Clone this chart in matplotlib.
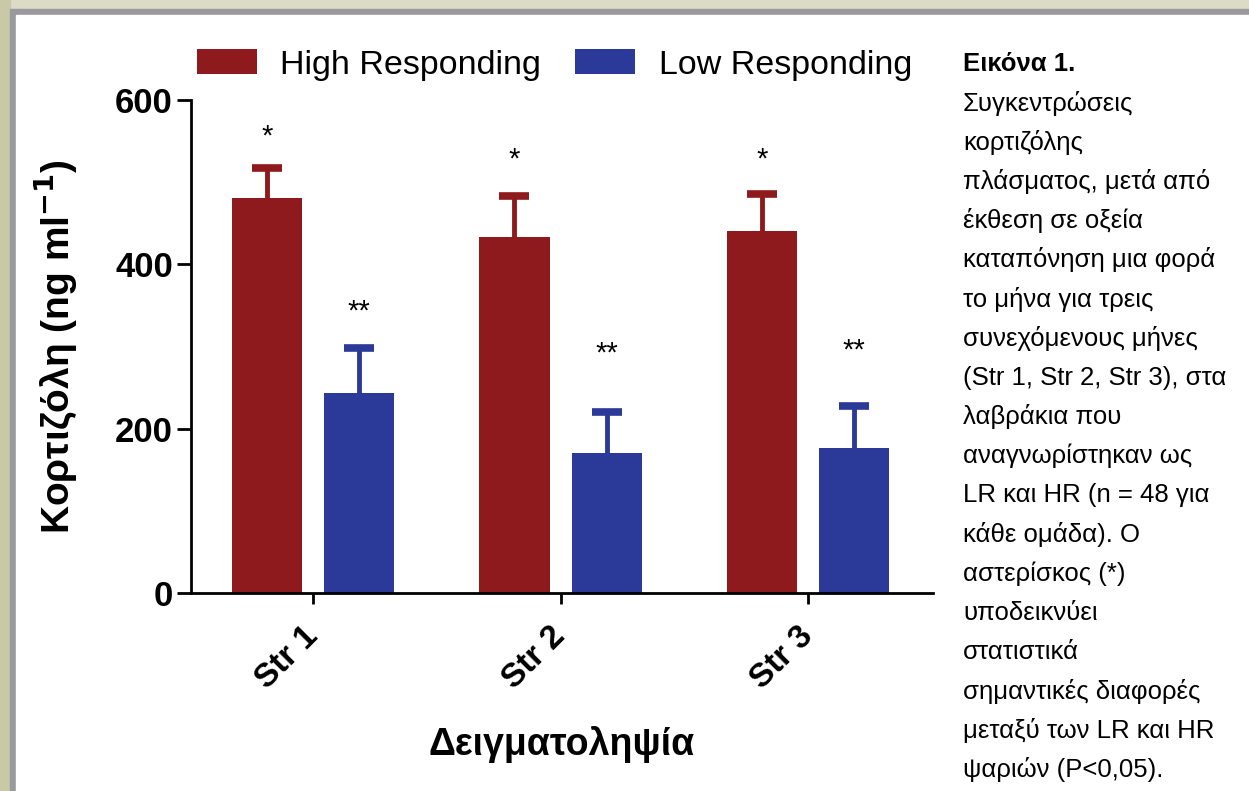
import numpy as np
import matplotlib
matplotlib.use("Agg")
import matplotlib.pyplot as plt
from matplotlib.patches import Rectangle, Patch

# data
groups = ["Str 1", "Str 2", "Str 3"]
high_mean = [481, 433, 441]
high_sem = [36, 50, 44]
low_mean = [244, 170, 177]
low_sem = [54, 50, 51]
high_marks = ["*", "*", "*"]
low_marks = ["**", "**", "**"]
high_mark_y = [555, 528, 528]
low_mark_y = [342, 292, 295]

caption = [
    "Συγκεντρώσεις",
    "κορτιζόλης",
    "πλάσματος, μετά από",
    "έκθεση σε οξεία",
    "καταπόνηση μια φορά",
    "το μήνα για τρεις",
    "συνεχόμενους μήνες",
    "(Str 1, Str 2, Str 3), στα",
    "λαβράκια που",
    "αναγνωρίστηκαν ως",
    "LR και HR (n = 48 για",
    "κάθε ομάδα). Ο",
    "αστερίσκος (*)",
    "υποδεικνύει",
    "στατιστικά",
    "σημαντικές διαφορές",
    "μεταξύ των LR και HR",
    "ψαριών (P<0,05).",
]

red = "#8e1a1e"
blue = "#2b3a98"

W, H = 1249, 791
fig = plt.figure(figsize=(W / 100, H / 100), dpi=100, facecolor="#dcdbc6")
plt.rcParams["font.family"] = ["Liberation Sans", "DejaVu Sans"]

# frame around the white panel
fig.add_artist(Rectangle((0, 0), 10 / W, 1, transform=fig.transFigure,
                         color="#c9c9a8", zorder=0))
fig.add_artist(Rectangle((10 / W, 0), 1, 1 - 9 / H, transform=fig.transFigure,
                         color="#9a9a9e", zorder=0))
fig.add_artist(Rectangle((16 / W, 0), 1, 1 - 15 / H, transform=fig.transFigure,
                         color="white", zorder=0))

ax = fig.add_axes([191 / W, 1 - 593 / H, (933 - 191) / W, (593 - 100) / H])
ax.set_facecolor("none")

x = np.arange(len(groups))
w = 0.283
off = 0.186
ax.bar(x - off, high_mean, w, color=red, zorder=2)
ax.bar(x + off, low_mean, w, color=blue, zorder=2)
# symmetric bars drawn behind the columns so only the upper half shows
ax.errorbar(x - off, high_mean, yerr=high_sem, fmt="none",
            ecolor=red, elinewidth=3.5, capsize=11, capthick=5.5, zorder=1)
ax.errorbar(x + off, low_mean, yerr=low_sem, fmt="none",
            ecolor=blue, elinewidth=3.5, capsize=11, capthick=5.5, zorder=1)

for i in range(len(groups)):
    ax.text(x[i] - off, high_mark_y[i], high_marks[i], ha="center", va="center",
            fontsize=21)
    ax.text(x[i] + off, low_mark_y[i], low_marks[i], ha="center", va="center",
            fontsize=21)

ax.set_xlim(-0.493, 2.505)
ax.set_ylim(0, 600)
ax.set_yticks([0, 200, 400, 600])
ax.set_xticks(x)
ax.set_xticklabels(groups, rotation=45, ha="right", va="center",
                   rotation_mode="anchor", fontsize=24, fontweight="bold")
for lab in ax.get_yticklabels():
    lab.set_fontsize(25)
    lab.set_fontweight("bold")
ax.tick_params(axis="y", length=10, width=2, pad=3)
ax.tick_params(axis="x", length=8, width=2, pad=20)
for s in ["top", "right"]:
    ax.spines[s].set_visible(False)
for s in ["left", "bottom"]:
    ax.spines[s].set_linewidth(2)

ax.set_ylabel("Κορτιζόλη (ng ml$^{\\mathbf{-1}}$)", fontsize=28,
              fontweight="bold", labelpad=26)
ax.set_xlabel("Δειγματοληψία", fontsize=27, fontweight="bold", labelpad=22)

handles = [Patch(facecolor=red, label="High Responding"),
           Patch(facecolor=blue, label="Low Responding")]
fig.legend(handles=handles, loc="center left",
           bbox_to_anchor=(197 / W, 1 - 65 / H), ncol=2, frameon=False,
           fontsize=24.5, handlelength=1.75, handleheight=0.76,
           handletextpad=0.7, columnspacing=1.0, borderaxespad=0,
           borderpad=0)

# caption on the right
cap_font = ["Liberation Sans", "DejaVu Sans"]
y0 = 64
step = 39.2
fig.text(963 / W, 1 - y0 / H, "Εικόνα 1.", fontsize=18.5, fontweight="bold",
         family=cap_font, va="center", ha="left")
for k, line in enumerate(caption):
    fig.text(963 / W, 1 - (y0 + step * (k + 1)) / H, line, fontsize=18.5,
             family=cap_font, va="center", ha="left")

fig.savefig("out.png", dpi=100, facecolor=fig.get_facecolor())
